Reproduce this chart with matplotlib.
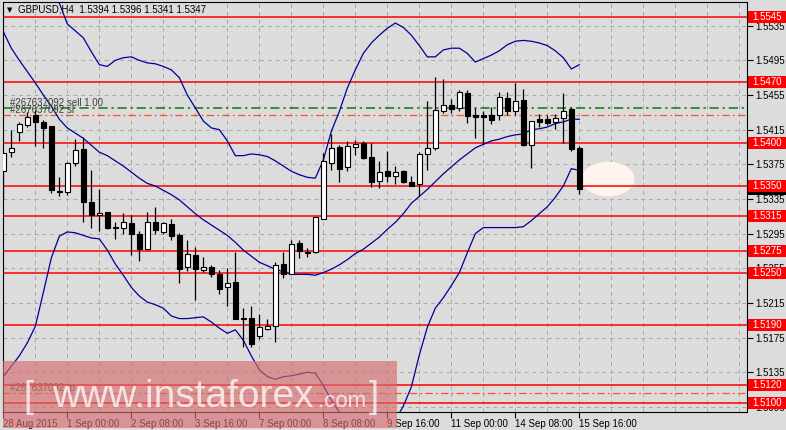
import matplotlib.pyplot as plt
from matplotlib.patches import Rectangle, Ellipse
from matplotlib.transforms import blended_transform_factory

plt.rcParams['font.family'] = ['Liberation Sans', 'DejaVu Sans']

# GBPUSD H4, 28 Aug 2015 16:00 .. 15 Sep 16:00 (73 bars)
opens = [1.5367, 1.5389, 1.5412, 1.5420, 1.5432, 1.5424, 1.5419, 1.5344, 1.5343, 1.5377,
         1.5393, 1.5331, 1.5316, 1.5320, 1.5302, 1.5302, 1.5307, 1.5295, 1.5277, 1.5309,
         1.5297, 1.5306, 1.5293, 1.5256, 1.5270, 1.5253, 1.5256, 1.5249, 1.5233, 1.5239,
         1.5198, 1.5198, 1.5177, 1.5185, 1.5188, 1.5260, 1.5249, 1.5284, 1.5274, 1.5274,
         1.5312, 1.5377, 1.5395, 1.5372, 1.5395, 1.5400, 1.5384, 1.5356, 1.5367, 1.5362,
         1.5367, 1.5355, 1.5352, 1.5387, 1.5394, 1.5437, 1.5444, 1.5440, 1.5457, 1.5432,
         1.5432, 1.5432, 1.5432, 1.5452, 1.5436, 1.5449, 1.5397, 1.5427, 1.5427, 1.5424,
         1.5428, 1.5439, 1.5394]
highs = [1.5390, 1.5415, 1.5424, 1.5435, 1.5438, 1.5426, 1.5419, 1.5360, 1.5378, 1.5404,
         1.5406, 1.5369, 1.5347, 1.5320, 1.5308, 1.5319, 1.5317, 1.5298, 1.5320, 1.5326,
         1.5309, 1.5312, 1.5296, 1.5288, 1.5280, 1.5268, 1.5259, 1.5253, 1.5255, 1.5274,
         1.5209, 1.5212, 1.5202, 1.5197, 1.5262, 1.5274, 1.5288, 1.5288, 1.5279, 1.5314,
         1.5388, 1.5410, 1.5397, 1.5402, 1.5403, 1.5402, 1.5400, 1.5379, 1.5390, 1.5373,
         1.5368, 1.5362, 1.5389, 1.5448, 1.5476, 1.5473, 1.5450, 1.5461, 1.5461, 1.5440,
         1.5437, 1.5441, 1.5458, 1.5458, 1.5469, 1.5462, 1.5425, 1.5433, 1.5432, 1.5433,
         1.5457, 1.5441, 1.5396]
lows = [1.5335, 1.5383, 1.5402, 1.5418, 1.5396, 1.5394, 1.5342, 1.5339, 1.5340, 1.5373,
        1.5308, 1.5302, 1.5298, 1.5300, 1.5289, 1.5295, 1.5270, 1.5263, 1.5276, 1.5295,
        1.5295, 1.5288, 1.5238, 1.5252, 1.5218, 1.5251, 1.5245, 1.5225, 1.5212, 1.5197,
        1.5164, 1.5164, 1.5174, 1.5184, 1.5170, 1.5244, 1.5249, 1.5267, 1.5268, 1.5273,
        1.5312, 1.5368, 1.5355, 1.5367, 1.5386, 1.5381, 1.5349, 1.5348, 1.5355, 1.5352,
        1.5353, 1.5350, 1.5338, 1.5368, 1.5391, 1.5434, 1.5434, 1.5436, 1.5423, 1.5405,
        1.5399, 1.5422, 1.5426, 1.5432, 1.5432, 1.5396, 1.5371, 1.5418, 1.5420, 1.5416,
        1.5400, 1.5390, 1.5341]
closes = [1.5388, 1.5394, 1.5421, 1.5430, 1.5424, 1.5417, 1.5345, 1.5343, 1.5376, 1.5392,
          1.5332, 1.5317, 1.5319, 1.5302, 1.5301, 1.5308, 1.5295, 1.5277, 1.5309, 1.5299,
          1.5307, 1.5292, 1.5254, 1.5272, 1.5254, 1.5257, 1.5249, 1.5231, 1.5238, 1.5197,
          1.5196, 1.5168, 1.5187, 1.5189, 1.5259, 1.5249, 1.5283, 1.5275, 1.5273, 1.5314,
          1.5379, 1.5394, 1.5370, 1.5396, 1.5399, 1.5382, 1.5355, 1.5366, 1.5362, 1.5366,
          1.5355, 1.5350, 1.5387, 1.5394, 1.5438, 1.5443, 1.5439, 1.5458, 1.5431, 1.5430,
          1.5430, 1.5426, 1.5453, 1.5437, 1.5448, 1.5397, 1.5425, 1.5424, 1.5423, 1.5429,
          1.5437, 1.5393, 1.5347]

# Bollinger bands
bb_upper = [1.5668, 1.5657, 1.5645, 1.5634, 1.5620, 1.5603, 1.5582, 1.5561, 1.5537, 1.5529,
            1.5521, 1.5505, 1.5490, 1.5488, 1.5495, 1.5498, 1.5499, 1.5495, 1.5492, 1.5491,
            1.5488, 1.5484, 1.5475, 1.5455, 1.5440, 1.5425, 1.5417, 1.5415, 1.5402, 1.5385,
            1.5385, 1.5387, 1.5386, 1.5384, 1.5379, 1.5373, 1.5367, 1.5363, 1.5360, 1.5359,
            1.5380, 1.5413, 1.5436, 1.5463, 1.5484, 1.5503, 1.5515, 1.5524, 1.5532, 1.5538,
            1.5533, 1.5524, 1.5512, 1.5499, 1.5499, 1.5507, 1.5509, 1.5509, 1.5503, 1.5493,
            1.5497, 1.5501, 1.5506, 1.5513, 1.5517, 1.5518, 1.5517, 1.5515, 1.5512, 1.5506,
            1.5498, 1.5485, 1.5490]
bb_middle = [1.5528, 1.5509, 1.5495, 1.5482, 1.5469, 1.5455, 1.5442, 1.5427, 1.5417, 1.5411,
             1.5405, 1.5397, 1.5389, 1.5385, 1.5379, 1.5373, 1.5366, 1.5359, 1.5353, 1.5350,
             1.5345, 1.5340, 1.5334, 1.5326, 1.5318, 1.5311, 1.5305, 1.5299, 1.5293, 1.5285,
             1.5276, 1.5269, 1.5262, 1.5258, 1.5254, 1.5251, 1.5248, 1.5248, 1.5248, 1.5247,
             1.5250, 1.5254, 1.5259, 1.5265, 1.5272, 1.5277, 1.5284, 1.5291, 1.5300, 1.5308,
             1.5318, 1.5330, 1.5338, 1.5346, 1.5355, 1.5364, 1.5372, 1.5380, 1.5387, 1.5394,
             1.5398, 1.5402, 1.5404, 1.5407, 1.5409, 1.5410, 1.5415, 1.5416, 1.5418, 1.5422,
             1.5424, 1.5427, 1.5427]
bb_lower = [1.5130, 1.5142, 1.5154, 1.5169, 1.5188, 1.5227, 1.5267, 1.5292, 1.5297, 1.5296,
            1.5293, 1.5290, 1.5289, 1.5276, 1.5260, 1.5247, 1.5233, 1.5223, 1.5216, 1.5213,
            1.5209, 1.5200, 1.5197, 1.5197, 1.5198, 1.5199, 1.5193, 1.5186, 1.5180, 1.5184,
            1.5172, 1.5154, 1.5138, 1.5130, 1.5127, 1.5130, 1.5131, 1.5133, 1.5135, 1.5134,
            1.5120, 1.5103, 1.5089, 1.5074, 1.5063, 1.5057, 1.5057, 1.5063, 1.5071, 1.5080,
            1.5096, 1.5118, 1.5155, 1.5187, 1.5209, 1.5221, 1.5235, 1.5250, 1.5273, 1.5295,
            1.5302, 1.5302, 1.5302, 1.5302, 1.5302, 1.5303, 1.5310, 1.5318, 1.5326, 1.5337,
            1.5350, 1.5370, 1.5368]

time_labels = ["28 Aug 2015", "1 Sep 00:00", "2 Sep 08:00", "3 Sep 16:00", "7 Sep 00:00",
               "8 Sep 08:00", "9 Sep 16:00", "11 Sep 00:00", "14 Sep 08:00", "15 Sep 16:00"]
price_ticks = [1.5535, 1.5495, 1.5455, 1.5415, 1.5375, 1.5335, 1.5295, 1.5255,
               1.5215, 1.5175, 1.5135, 1.5095]
levels = [1.5545, 1.5470, 1.5400, 1.5350, 1.5315, 1.5275, 1.5250, 1.5190, 1.5120, 1.5100]

order_id = "#267637092"
order_sell = 1.5440
order_sl = 1.5432
order_tp = 1.5111
bid = closes[-1]

W, H = 786, 430
BG = '#dcdcdc'
PX = 0.04731 / 410  # price per pixel


def fx(px):
    return px / W


def fy(py):
    return 1 - py / H


fig = plt.figure(figsize=(W / 100, H / 100), dpi=100, facecolor=BG)
ax = fig.add_axes([fx(3), fy(412), 744 / W, 410 / H], facecolor=BG)
n = len(closes)
xs = list(range(n))
ax.set_xlim(-0.04, 92.96)
ax.set_ylim(1.50892, 1.55623)

# grid + ticks
ax.set_yticks(price_ticks)
ax.set_yticklabels([f'{t:.4f}' for t in price_ticks])
ax.set_xticks(range(0, n, 8))
ax.set_xticklabels(time_labels, ha='left')
ax.set_xticks(range(0, 93, 4), minor=True)
ax.grid(True, which='both', color='#a8a8a8', linestyle=(0, (4, 4)), linewidth=0.7, zorder=0)
ax.set_axisbelow(True)
ax.yaxis.tick_right()
ax.tick_params(axis='y', direction='out', length=4, width=0.8, pad=2, labelsize=7)
ax.tick_params(axis='x', which='major', direction='out', length=4, width=0.8, pad=1, labelsize=7)
ax.tick_params(axis='x', which='minor', length=0)
for sp in ax.spines.values():
    sp.set_color('black')
    sp.set_linewidth(0.8)

# highlight blob near last candle
ax.add_patch(Ellipse((75.6, 1.5358), 6.6, 0.0040, fc='#fff4ee', ec='none', zorder=1.5))

# horizontal levels
for lv in levels:
    ax.axhline(lv, color='red', lw=1.1, zorder=2)

dash = (0, (6, 2.5, 1.5, 2.5))
ax.axhline(order_sell, color='#008000', lw=1.1, linestyle=dash, zorder=2)
ax.axhline(order_sl, color='#f05a1e', lw=0.9, linestyle=dash, zorder=2)
ax.axhline(order_tp, color='#f05a1e', lw=0.9, linestyle=dash, zorder=2)

tr = blended_transform_factory(ax.transAxes, ax.transData)
ax.text(0.009, order_sell + 2 * PX, f'{order_id} sell 1.00', transform=tr,
        fontsize=7, color='#404040', va='baseline')
ax.text(0.009, order_sl + 2 * PX, f'{order_id} sl', transform=tr,
        fontsize=7, color='#404040', va='baseline')
ax.text(0.009, order_tp + 2 * PX, f'{order_id} tp', transform=tr,
        fontsize=7, color='#404040', va='baseline')

# bollinger bands
for band in (bb_upper, bb_middle, bb_lower):
    ax.plot(xs, band, color='#000096', lw=0.9, zorder=2.5)

# candles
bottoms = [min(o, c) for o, c in zip(opens, closes)]
heights = [max(abs(c - o), PX) for o, c in zip(opens, closes)]
colors = ['white' if c > o else 'black' for o, c in zip(opens, closes)]
ax.vlines(xs, lows, highs, color='black', lw=0.9, zorder=3)
ax.bar(xs, heights, width=0.6, bottom=bottoms, color=colors, edgecolor='black',
       linewidth=0.8, zorder=4)

# price labels on the right axis
bt = blended_transform_factory(fig.transFigure, ax.transData)
box_h = 12 * PX
fig.add_artist(Rectangle((fx(748), bid - box_h / 2), fx(786) - fx(748), box_h,
                         transform=bt, fc='black', ec='none', zorder=5))
for lv in levels:
    fig.add_artist(Rectangle((fx(748), lv - box_h / 2), fx(786) - fx(748), box_h,
                             transform=bt, fc='#ff0000', ec='none', zorder=6))
    fig.text(fx(767), lv, f'{lv:.4f}', transform=bt, color='white', ha='center',
             va='center', fontsize=7, zorder=7)

# header
fig.text(fx(9.5), fy(10.5), '\u25bc', fontsize=5, ha='center', va='center',
         family='DejaVu Sans')
title = f'GBPUSD,H4  {opens[-1]:.4f} {highs[-1]:.4f} {lows[-1]:.4f} {closes[-1]:.4f}'
fig.text(fx(18), fy(10), title, fontsize=7, ha='left', va='center')

# watermark
fig.add_artist(Rectangle((fx(3), fy(428)), 394 / W, 67 / H, transform=fig.transFigure,
                         fc=(215 / 255, 110 / 255, 110 / 255), alpha=0.65, ec='none', zorder=8))
wm = dict(color='white', alpha=0.75, va='baseline', ha='left', zorder=9)
fig.text(fx(23), fy(407), '[', fontsize=26, **wm)
fig.text(fx(52), fy(407), 'www.instaforex', fontsize=28, **wm)
fig.text(fx(318), fy(407), '.com', fontsize=16, **wm)
fig.text(fx(369), fy(407), ']', fontsize=26, **wm)

fig.savefig('out.png', dpi=100, facecolor=BG)
plt.close(fig)
